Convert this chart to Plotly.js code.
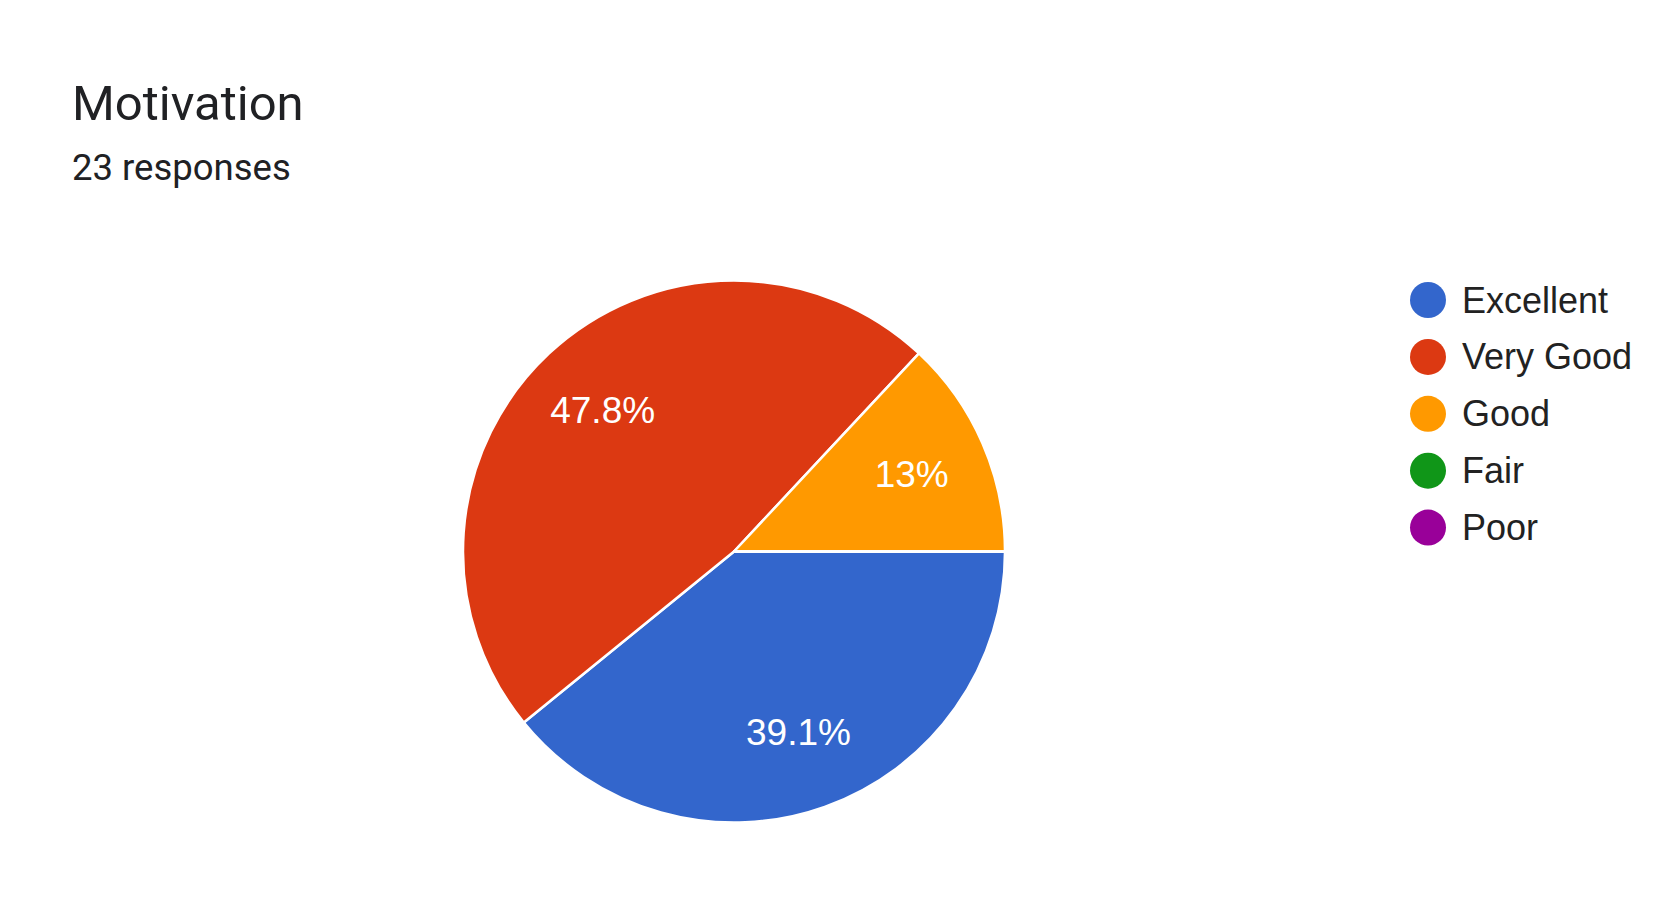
<!DOCTYPE html>
<html>
<head>
<meta charset="utf-8">
<script src="https://cdn.plot.ly/plotly-3.0.1.min.js"></script>
<style>
  html, body { margin: 0; padding: 0; background: #ffffff; }
  #chart { width: 1667px; height: 924px; }
</style>
</head>
<body>
<div id="chart"></div>
<script>
const chartTitle = "Motivation";
const subtitle = "23 responses";
const categories = ["Excellent", "Very Good", "Good", "Fair", "Poor"];
const responses = [9, 11, 3, 0, 0];
const colors = ["#3366cc", "#dc3912", "#ff9900", "#109618", "#990099"];

const W = 1667, H = 924;
const px = x => x / W;
const py = y => 1 - y / H;

const cx = 734, cy = 551.5, R = 271;
const dom = { x: [px(cx - R), px(cx + R)], y: [py(cy + R), py(cy - R)] };

const pieBase = {
  type: "pie",
  labels: categories,
  values: responses,
  sort: false,
  direction: "clockwise",
  rotation: 90,
  marker: { colors: colors, line: { color: "#ffffff", width: 2.5 } },
  textinfo: "none",
  showlegend: false,
  hoverinfo: "label+percent",
  domain: dom
};

const pieText = {
  type: "pie",
  labels: categories,
  values: responses,
  sort: false,
  direction: "clockwise",
  rotation: 90,
  hole: 0.42,
  marker: { colors: categories.map(() => "rgba(0,0,0,0)"), line: { width: 0 } },
  textinfo: "percent",
  textposition: "inside",
  insidetextorientation: "horizontal",
  textfont: { family: "Liberation Sans, Arial, sans-serif", size: 37, color: "#ffffff" },
  showlegend: false,
  hoverinfo: "skip",
  domain: dom
};

const annotations = [
  { text: chartTitle, x: px(70), y: py(104), xref: "paper", yref: "paper",
    xanchor: "left", yanchor: "middle", showarrow: false,
    font: { family: "Roboto, sans-serif", size: 49, color: "#202124" } },
  { text: subtitle, x: px(70), y: py(167), xref: "paper", yref: "paper",
    xanchor: "left", yanchor: "middle", showarrow: false,
    font: { family: "Roboto, sans-serif", size: 36.5, color: "#202124" } }
];
const shapes = [];
const legX = 1428, legY0 = 300, legStep = 56.9, legR = 18;
categories.forEach((c, i) => {
  const y = legY0 + i * legStep;
  shapes.push({ type: "circle", xref: "paper", yref: "paper",
    x0: px(legX - legR), x1: px(legX + legR), y0: py(y + legR), y1: py(y - legR),
    fillcolor: colors[i], line: { width: 0 } });
  annotations.push({ text: c, x: px(1460), y: py(y), xref: "paper", yref: "paper",
    xanchor: "left", yanchor: "middle", showarrow: false,
    font: { family: "Liberation Sans, Arial, sans-serif", size: 36, color: "#222222" } });
});

const layout = {
  width: W, height: H,
  margin: { l: 0, r: 0, t: 0, b: 0 },
  paper_bgcolor: "#ffffff",
  showlegend: false,
  annotations: annotations,
  shapes: shapes
};

Plotly.newPlot("chart", [pieBase, pieText], layout, { displayModeBar: false, staticPlot: true });
</script>
</body>
</html>
